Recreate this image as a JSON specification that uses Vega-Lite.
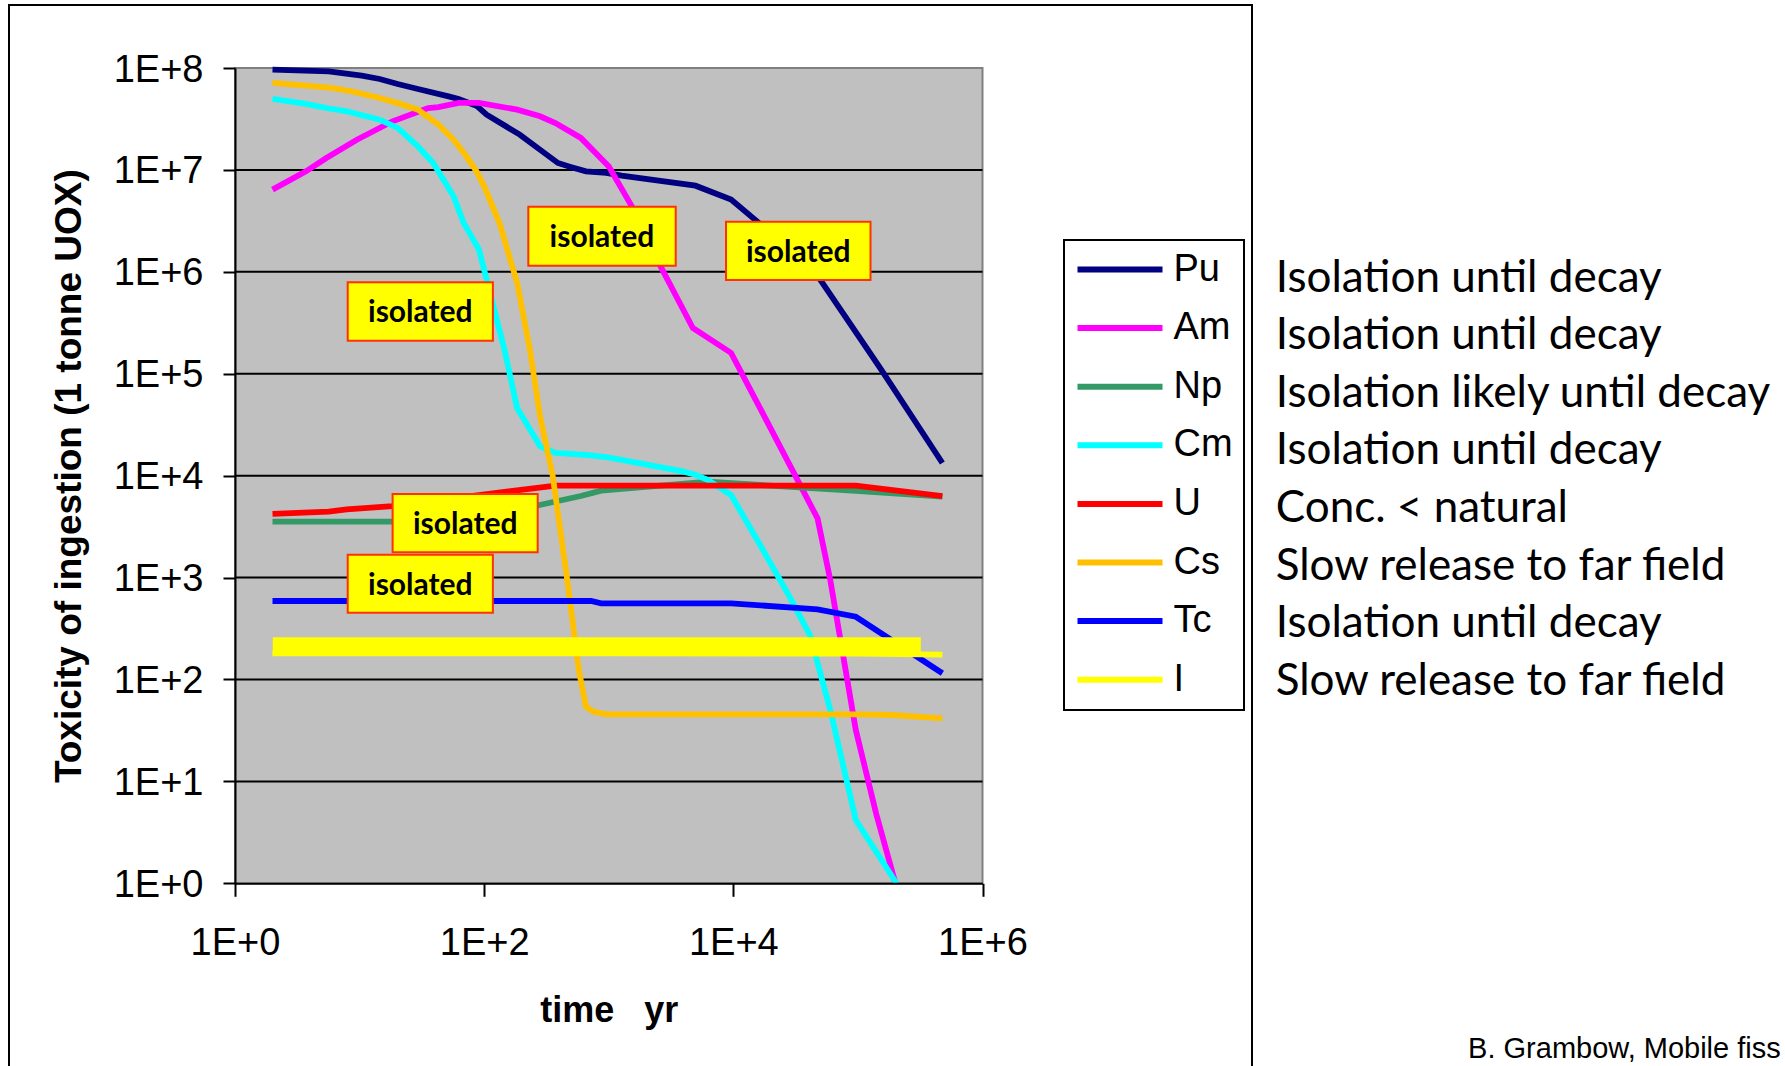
{
  "$schema": "https://vega.github.io/schema/vega-lite/v6.json",
  "width": 1243,
  "height": 1064,
  "autosize": {"type": "none"},
  "padding": {"left": 9, "top": 5, "right": 533, "bottom": -3},
  "background": "white",
  "config": {
    "view": {"stroke": "black", "strokeWidth": 2, "fill": "white"},
    "legend": {"strokeWidth": 2}
  },
  "datasets": {
    "plotarea": [{"x": 1, "x2": 1000000, "y": 1, "y2": 100000000}],
    "grid": [
      {"x": 1, "x2": 1000000, "y": 10}, {"x": 1, "x2": 1000000, "y": 100}, {"x": 1, "x2": 1000000, "y": 1000},
      {"x": 1, "x2": 1000000, "y": 10000}, {"x": 1, "x2": 1000000, "y": 100000}, {"x": 1, "x2": 1000000, "y": 1000000},
      {"x": 1, "x2": 1000000, "y": 10000000}
    ],
    "series": [
      {"series": "Pu", "x": 2, "y": 96400000}, {"series": "Pu", "x": 5.66, "y": 92700000}, {"series": "Pu", "x": 10.4, "y": 84100000}, {"series": "Pu", "x": 14.5, "y": 78000000}, {"series": "Pu", "x": 20.2, "y": 69700000}, {"series": "Pu", "x": 29.4, "y": 62200000}, {"series": "Pu", "x": 51.8, "y": 52700000}, {"series": "Pu", "x": 62.4, "y": 49700000}, {"series": "Pu", "x": 86.7, "y": 42700000}, {"series": "Pu", "x": 104.7, "y": 34800000}, {"series": "Pu", "x": 193, "y": 22200000}, {"series": "Pu", "x": 269, "y": 16400000}, {"series": "Pu", "x": 391, "y": 11700000}, {"series": "Pu", "x": 494, "y": 10700000}, {"series": "Pu", "x": 656, "y": 9680000}, {"series": "Pu", "x": 955, "y": 9330000}, {"series": "Pu", "x": 1268, "y": 8770000}, {"series": "Pu", "x": 4966, "y": 7000000}, {"series": "Pu", "x": 9594, "y": 5110000}, {"series": "Pu", "x": 16100, "y": 3010000}, {"series": "Pu", "x": 49800, "y": 838000}, {"series": "Pu", "x": 105700, "y": 216000}, {"series": "Pu", "x": 153800, "y": 110000}, {"series": "Pu", "x": 476400, "y": 13300},
      {"series": "Am", "x": 2, "y": 6400000}, {"series": "Am", "x": 3.71, "y": 9680000}, {"series": "Am", "x": 5.41, "y": 13100000}, {"series": "Am", "x": 9.51, "y": 19800000}, {"series": "Am", "x": 18.4, "y": 30000000}, {"series": "Am", "x": 35.5, "y": 40500000}, {"series": "Am", "x": 42.9, "y": 41400000}, {"series": "Am", "x": 62.4, "y": 45400000}, {"series": "Am", "x": 90.8, "y": 45400000}, {"series": "Am", "x": 184, "y": 39000000}, {"series": "Am", "x": 281, "y": 33600000}, {"series": "Am", "x": 373, "y": 28800000}, {"series": "Am", "x": 597, "y": 20600000}, {"series": "Am", "x": 1002, "y": 10800000}, {"series": "Am", "x": 1531, "y": 4390000}, {"series": "Am", "x": 2570, "y": 1170000}, {"series": "Am", "x": 4732, "y": 281000}, {"series": "Am", "x": 9594, "y": 160000}, {"series": "Am", "x": 16100, "y": 47900}, {"series": "Am", "x": 47400, "y": 3811}, {"series": "Am", "x": 60000, "y": 946}, {"series": "Am", "x": 96200, "y": 31.9}, {"series": "Am", "x": 140000, "y": 4.85}, {"series": "Am", "x": 200000, "y": 1.0},
      {"series": "Np", "x": 2, "y": 3540}, {"series": "Np", "x": 5.66, "y": 3540}, {"series": "Np", "x": 18.4, "y": 3540}, {"series": "Np", "x": 60, "y": 3700}, {"series": "Np", "x": 150, "y": 4300}, {"series": "Np", "x": 256, "y": 5035}, {"series": "Np", "x": 597, "y": 6310}, {"series": "Np", "x": 869, "y": 7130}, {"series": "Np", "x": 6270, "y": 8730}, {"series": "Np", "x": 96200, "y": 7080}, {"series": "Np", "x": 476400, "y": 6220},
      {"series": "Cm", "x": 2, "y": 49700000}, {"series": "Cm", "x": 3.71, "y": 44400000}, {"series": "Cm", "x": 5.41, "y": 40500000}, {"series": "Cm", "x": 7.87, "y": 37600000}, {"series": "Cm", "x": 14.5, "y": 31100000}, {"series": "Cm", "x": 20.2, "y": 25800000}, {"series": "Cm", "x": 29.4, "y": 17000000}, {"series": "Cm", "x": 39.0, "y": 11700000}, {"series": "Cm", "x": 56.8, "y": 5510000}, {"series": "Cm", "x": 68.5, "y": 3010000}, {"series": "Cm", "x": 90.8, "y": 1650000}, {"series": "Cm", "x": 104.7, "y": 838000}, {"series": "Cm", "x": 145.5, "y": 172000}, {"series": "Cm", "x": 184, "y": 46000}, {"series": "Cm", "x": 281, "y": 19400}, {"series": "Cm", "x": 373, "y": 16700}, {"series": "Cm", "x": 656, "y": 16000}, {"series": "Cm", "x": 955, "y": 15200}, {"series": "Cm", "x": 1268, "y": 14300}, {"series": "Cm", "x": 3917, "y": 11000}, {"series": "Cm", "x": 4966, "y": 10200}, {"series": "Cm", "x": 6270, "y": 9060}, {"series": "Cm", "x": 9594, "y": 6457}, {"series": "Cm", "x": 16100, "y": 2168}, {"series": "Cm", "x": 28250, "y": 650}, {"series": "Cm", "x": 41210, "y": 273}, {"series": "Cm", "x": 60000, "y": 50.1}, {"series": "Cm", "x": 96200, "y": 4.18}, {"series": "Cm", "x": 204000, "y": 1.0},
      {"series": "U", "x": 2, "y": 4207}, {"series": "U", "x": 5.66, "y": 4436}, {"series": "U", "x": 7.87, "y": 4677}, {"series": "U", "x": 18.4, "y": 5035}, {"series": "U", "x": 90.8, "y": 6457}, {"series": "U", "x": 176, "y": 7130}, {"series": "U", "x": 373, "y": 7980}, {"series": "U", "x": 869, "y": 7980}, {"series": "U", "x": 96200, "y": 7980}, {"series": "U", "x": 476400, "y": 6310},
      {"series": "Cs", "x": 2, "y": 71300000}, {"series": "Cs", "x": 3.71, "y": 67100000}, {"series": "Cs", "x": 5.93, "y": 63700000}, {"series": "Cs", "x": 8.65, "y": 59000000}, {"series": "Cs", "x": 14.5, "y": 50800000}, {"series": "Cs", "x": 22.2, "y": 43700000}, {"series": "Cs", "x": 29.4, "y": 39000000}, {"series": "Cs", "x": 42.9, "y": 27800000}, {"series": "Cs", "x": 56.8, "y": 19800000}, {"series": "Cs", "x": 71.9, "y": 13600000}, {"series": "Cs", "x": 86.7, "y": 9680000}, {"series": "Cs", "x": 100, "y": 6900000}, {"series": "Cs", "x": 132.7, "y": 3010000}, {"series": "Cs", "x": 184, "y": 776000}, {"series": "Cs", "x": 232.8, "y": 172000}, {"series": "Cs", "x": 281, "y": 38200}, {"series": "Cs", "x": 354.8, "y": 10000}, {"series": "Cs", "x": 467.7, "y": 891}, {"series": "Cs", "x": 575.4, "y": 123}, {"series": "Cs", "x": 656, "y": 54.1}, {"series": "Cs", "x": 755, "y": 48.3}, {"series": "Cs", "x": 955, "y": 45.5}, {"series": "Cs", "x": 96200, "y": 45.5}, {"series": "Cs", "x": 186200, "y": 44.8}, {"series": "Cs", "x": 476400, "y": 41.6},
      {"series": "Tc", "x": 2, "y": 589}, {"series": "Tc", "x": 721, "y": 589}, {"series": "Tc", "x": 869, "y": 558}, {"series": "Tc", "x": 9594, "y": 558}, {"series": "Tc", "x": 47400, "y": 488}, {"series": "Tc", "x": 96200, "y": 413}, {"series": "Tc", "x": 476400, "y": 115},
      {"series": "I", "x": 2, "y": 180}, {"series": "I", "x": 1000, "y": 180}, {"series": "I", "x": 100000, "y": 179}, {"series": "I", "x": 476400, "y": 175}
    ],
    "band": [{"x": 2.01, "x2": 319800, "y": 171.2, "y2": 259.4}],
    "labels": [
      {"x": 226.1, "x2": 3448, "y": 1149000, "y2": 4357000, "xc": 881, "yc": 2237000, "text": "isolated"},
      {"x": 8732, "x2": 126200, "y": 831700, "y2": 3105000, "xc": 33200, "yc": 1607000, "text": "isolated"},
      {"x": 8.03, "x2": 117.5, "y": 211000, "y2": 789700, "xc": 30.72, "yc": 408300, "text": "isolated"},
      {"x": 18.41, "x2": 269.0, "y": 1770, "y2": 6607, "xc": 70.4, "yc": 3420, "text": "isolated"},
      {"x": 8.03, "x2": 117.5, "y": 452.2, "y2": 1676, "xc": 30.72, "yc": 870.7, "text": "isolated"}
    ],
    "notes": [
      {"x": 225800000, "y": 638500, "text": "Isolation until decay"},
      {"x": 225800000, "y": 173800, "text": "Isolation until decay"},
      {"x": 225800000, "y": 47300, "text": "Isolation likely until decay"},
      {"x": 225800000, "y": 12870, "text": "Isolation until decay"},
      {"x": 225800000, "y": 3503, "text": "Conc. < natural"},
      {"x": 225800000, "y": 953, "text": "Slow release to far field"},
      {"x": 225800000, "y": 259.4, "text": "Isolation until decay"},
      {"x": 225800000, "y": 70.6, "text": "Slow release to far field"}
    ],
    "footer": [{"x": 7900000000, "y": 0.0192, "text": "B. Grambow, Mobile fiss"}]
  },
  "encoding": {
    "x": {
      "field": "x", "type": "quantitative",
      "scale": {"type": "log", "domain": [1, 1000000], "range": [226, 973.5], "nice": false},
      "axis": {
        "values": [1, 100, 10000, 1000000],
        "labelExpr": "'1E+' + round(log(datum.value) / LN10)",
        "offset": -185.7, "grid": false, "zindex": 1,
        "domainColor": "black", "domainWidth": 2,
        "tickColor": "black", "tickWidth": 2, "tickSize": 13,
        "labelPadding": 28, "labelFont": "Liberation Sans", "labelFontSize": 38, "labelColor": "black",
        "labelFlush": false, "labelOverlap": false,
        "title": "time\u00a0\u00a0\u00a0yr", "titleFont": "Liberation Sans", "titleFontSize": 36, "titleFontWeight": "bold", "titleColor": "black", "titlePadding": 31
      }
    },
    "y": {
      "field": "y", "type": "quantitative",
      "scale": {"type": "log", "domain": [1, 100000000], "range": [878.3, 63], "nice": false},
      "axis": {
        "values": [1, 10, 100, 1000, 10000, 100000, 1000000, 10000000, 100000000],
        "labelExpr": "'1E+' + round(log(datum.value) / LN10)",
        "offset": -226, "grid": false, "zindex": 1,
        "domainColor": "black", "domainWidth": 2,
        "tickColor": "black", "tickWidth": 2, "tickSize": 12,
        "labelPadding": 20, "labelFont": "Liberation Sans", "labelFontSize": 38, "labelColor": "black",
        "labelFlush": false, "labelOverlap": false, "labelOffset": 2,
        "title": "Toxicity of ingestion (1 tonne UOX)", "titleFont": "Liberation Sans", "titleFontSize": 37, "titleFontWeight": "bold", "titleColor": "black", "titlePadding": 25
      }
    }
  },
  "layer": [
    {
      "data": {"name": "plotarea"},
      "mark": {"type": "rect", "fill": "#C0C0C0", "stroke": "#808080", "strokeWidth": 2},
      "encoding": {"x2": {"field": "x2"}, "y2": {"field": "y2"}}
    },
    {
      "data": {"name": "grid"},
      "mark": {"type": "rule", "color": "black", "strokeWidth": 2},
      "encoding": {"x2": {"field": "x2"}}
    },
    {
      "data": {"name": "series"},
      "mark": {"type": "line", "strokeWidth": 5.8},
      "encoding": {
        "color": {
          "field": "series", "type": "nominal",
          "scale": {"domain": ["Pu", "Am", "Np", "Cm", "U", "Cs", "Tc", "I"], "range": ["#000080", "#FF00FF", "#339966", "#00FFFF", "#FF0000", "#FFC000", "#0000FF", "#FFFF00"]},
          "legend": {
            "orient": "none", "legendX": 1055, "legendY": 235, "title": null,
            "symbolType": "stroke", "symbolSize": 7225, "symbolStrokeWidth": 6,
            "clipHeight": 38, "rowPadding": 20.6, "padding": 10.5,
            "labelFont": "Liberation Sans", "labelFontSize": 38, "labelColor": "black", "labelOffset": 8,
            "fillColor": "white", "strokeColor": "black"
          }
        }
      }
    },
    {
      "data": {"name": "band"},
      "mark": {"type": "rect", "fill": "#FFFF00"},
      "encoding": {"x2": {"field": "x2"}, "y2": {"field": "y2"}}
    },
    {
      "data": {"name": "labels"},
      "mark": {"type": "rect", "fill": "#FFFF00", "stroke": "#FF3300", "strokeWidth": 2},
      "encoding": {"x2": {"field": "x2"}, "y2": {"field": "y2"}}
    },
    {
      "data": {"name": "labels"},
      "mark": {"type": "text", "font": "Lato", "fontSize": 30, "fontWeight": "bold", "color": "black", "align": "center", "baseline": "middle", "dy": 2},
      "encoding": {
        "x": {"field": "xc", "type": "quantitative"},
        "y": {"field": "yc", "type": "quantitative"},
        "text": {"field": "text"}
      }
    },
    {
      "data": {"name": "notes"},
      "mark": {"type": "text", "font": "Lato", "fontSize": 44, "color": "black", "align": "left", "baseline": "alphabetic"},
      "encoding": {"text": {"field": "text"}}
    },
    {
      "data": {"name": "footer"},
      "mark": {"type": "text", "font": "Liberation Sans", "fontSize": 29, "color": "black", "align": "left", "baseline": "alphabetic"},
      "encoding": {"text": {"field": "text"}}
    }
  ]
}
